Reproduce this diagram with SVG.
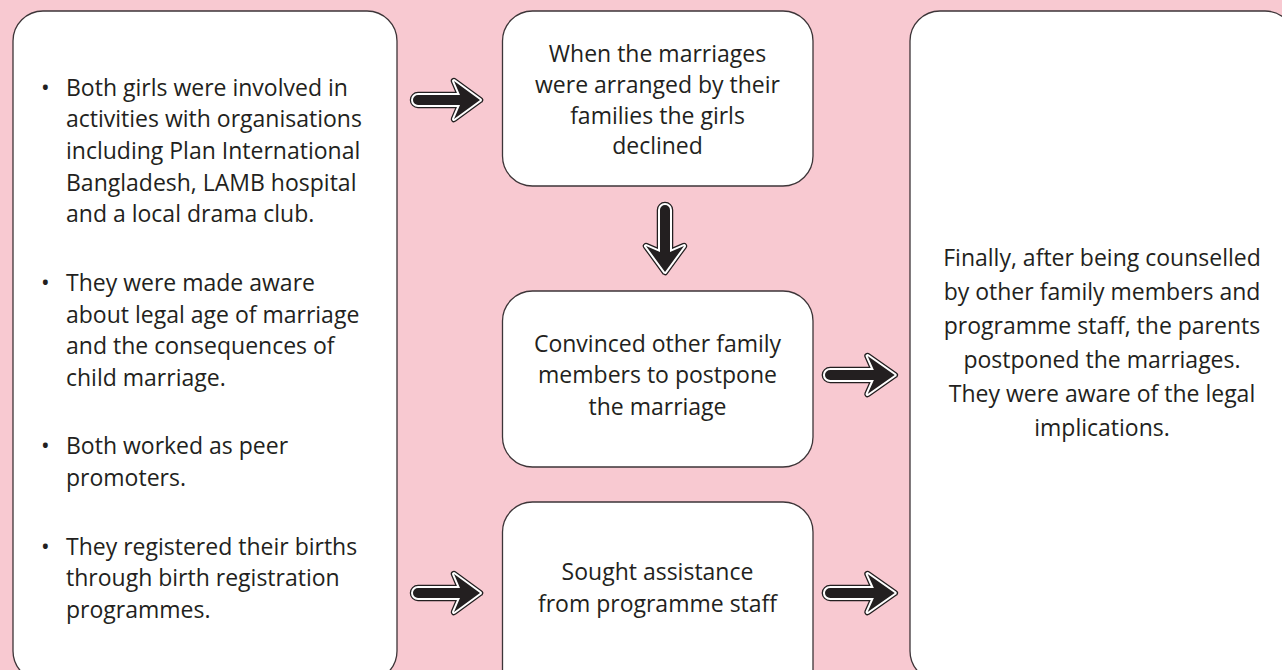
<svg xmlns="http://www.w3.org/2000/svg" xmlns:xlink="http://www.w3.org/1999/xlink" width="1282" height="670" viewBox="0 0 1282 670">
<style>
.box{fill:#ffffff;stroke:#3d3538;stroke-width:1.3}
.t{font-family:"Open Sans","Noto Sans",sans-serif;font-size:23px;fill:#231f20}
.c{text-anchor:middle}
.ao{fill:#231f20;stroke:#231f20;stroke-width:6.5;stroke-linejoin:round}
.aw{fill:#231f20;stroke:#ffffff;stroke-width:4;stroke-linejoin:round}
.ai{fill:#231f20}
</style>
<defs>
<path id="arr" d="M5,-5 L47,-5 L41,-19 L67,0 L41,19 L47,5 L5,5 A5,5 0 0 1 5,-5 Z"/>
<g id="arrow">
<use xlink:href="#arr" class="ao"/>
<use xlink:href="#arr" class="aw"/>
<use xlink:href="#arr" class="ai"/>
</g>
</defs>
<rect x="0" y="0" width="1282" height="670" fill="#f8c9d1"/>
<g id="left-box">
<rect class="box" x="13" y="11" width="384" height="670" rx="30"/>
<g class="t">
<text x="41" y="95.5">•</text>
<text x="66" y="95.5">Both girls were involved in</text>
<text x="66" y="127.2">activities with organisations</text>
<text x="66" y="158.9">including Plan International</text>
<text x="66" y="190.6">Bangladesh, LAMB hospital</text>
<text x="66" y="222.3">and a local drama club.</text>
<text x="41" y="290.8">•</text>
<text x="66" y="290.8">They were made aware</text>
<text x="66" y="322.5">about legal age of marriage</text>
<text x="66" y="354.2">and the consequences of</text>
<text x="66" y="385.9">child marriage.</text>
<text x="41" y="454.4">•</text>
<text x="66" y="454.4">Both worked as peer</text>
<text x="66" y="486.1">promoters.</text>
<text x="41" y="554.6">•</text>
<text x="66" y="554.6">They registered their births</text>
<text x="66" y="586.3">through birth registration</text>
<text x="66" y="618">programmes.</text>
</g>
</g>
<g id="box-declined">
<rect class="box" x="502.5" y="11" width="310.5" height="175" rx="30"/>
<g class="t c">
<text x="657.5" y="62">When the marriages</text>
<text x="657.5" y="93">were arranged by their</text>
<text x="657.5" y="123.5">families the girls</text>
<text x="657.5" y="154">declined</text>
</g>
</g>
<g id="box-convinced">
<rect class="box" x="502.5" y="291" width="310.5" height="176" rx="30"/>
<g class="t c">
<text x="657.5" y="351.7">Convinced other family</text>
<text x="657.5" y="383.3">members to postpone</text>
<text x="657.5" y="415">the marriage</text>
</g>
</g>
<g id="box-sought">
<rect class="box" x="502.5" y="502" width="310.5" height="200" rx="30"/>
<g class="t c">
<text x="657.5" y="580">Sought assistance</text>
<text x="657.5" y="611.7">from programme staff</text>
</g>
</g>
<g id="right-box">
<rect class="box" x="910" y="11" width="385" height="670" rx="30"/>
<g class="t c">
<text x="1102" y="266">Finally, after being counselled</text>
<text x="1102" y="300">by other family members and</text>
<text x="1102" y="334">programme staff, the parents</text>
<text x="1102" y="368">postponed the marriages.</text>
<text x="1102" y="402">They were aware of the legal</text>
<text x="1102" y="436">implications.</text>
</g>
</g>
<g id="connectors">
<use xlink:href="#arrow" transform="translate(413,100)"/>
<use xlink:href="#arrow" transform="translate(665,205) rotate(90)"/>
<use xlink:href="#arrow" transform="translate(825,375) scale(1.04,1)"/>
<use xlink:href="#arrow" transform="translate(413,593)"/>
<use xlink:href="#arrow" transform="translate(825,593) scale(1.04,1)"/>
</g>
</svg>
